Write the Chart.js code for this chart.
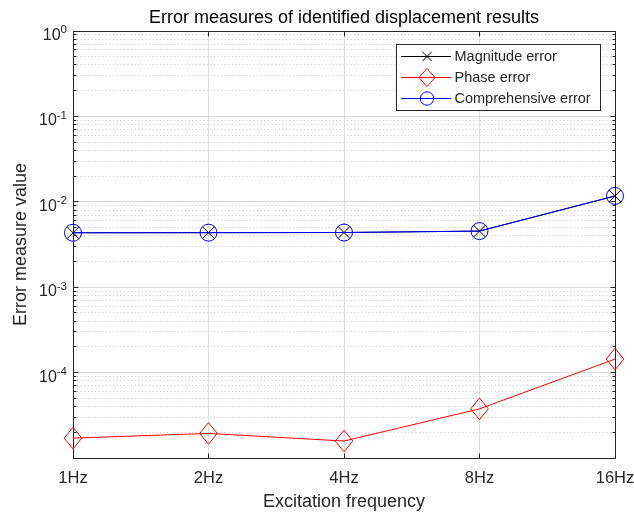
<!DOCTYPE html>
<html>
<head>
<meta charset="utf-8">
<script src="https://cdn.jsdelivr.net/npm/chart.js@4/dist/chart.umd.min.js"></script>
<style>
  html, body { margin: 0; padding: 0; background: #fff; overflow: hidden; }
  #wrap { width: 634px; height: 512px; position: relative; }
</style>
</head>
<body>
<div id="wrap"><canvas id="c" width="634" height="512"></canvas></div>
<script>
// ---- data ----
const frequencies = ['1Hz', '2Hz', '4Hz', '8Hz', '16Hz'];
const magnitudeError = [4.34e-3, 4.35e-3, 4.37e-3, 4.54e-3, 1.17e-2];
const phaseError = [1.71e-5, 1.94e-5, 1.58e-5, 3.76e-5, 1.44e-4];
const comprehensiveError = [4.34e-3, 4.35e-3, 4.37e-3, 4.54e-3, 1.17e-2];
const yDecadeExponents = [-4, -3, -2, -1, 0];   // labelled decades
const yRange = [1e-5, 1];

const titleText = 'Error measures of identified displacement results';
const xTitleText = 'Excitation frequency';
const yTitleText = 'Error measure value';

// ---- styling helpers ----
const FONT = '"Liberation Sans", Arial, Helvetica, sans-serif';
const AXIS_COLOR = '#262626';
const MAJOR_GRID = '#dedede';
const MINOR_GRID = '#c6c6c6';

const snap = v => Math.floor(v) + 0.5;

function diamondPath(ctx, x, y, hw, hh) {
  ctx.beginPath();
  ctx.moveTo(x, y - hh);
  ctx.lineTo(x + hw, y);
  ctx.lineTo(x, y + hh);
  ctx.lineTo(x - hw, y);
  ctx.closePath();
}

// tall diamond markers, placed at the point elements laid out by the chart
const diamondMarkers = {
  id: 'diamondMarkers',
  afterDatasetDraw(chart, args) {
    const ds = chart.data.datasets[args.index];
    if (ds.markerShape !== 'diamond') return;
    const ctx = chart.ctx;
    ctx.save();
    ctx.strokeStyle = ds.borderColor;
    ctx.lineWidth = 1;
    args.meta.data.forEach(pt => {
      diamondPath(ctx, pt.x, pt.y, 8.8, 10.8);
      ctx.stroke();
    });
    ctx.restore();
  }
};

// grid, box, ticks and text drawn around the plot area
const axesFrame = {
  id: 'axesFrame',
  beforeDatasetsDraw(chart) {
    const { ctx, chartArea: a, scales: { x, y } } = chart;
    const L = snap(a.left), R = snap(a.right), T = snap(a.top), B = snap(a.bottom);
    ctx.save();
    ctx.lineWidth = 1;

    // minor horizontal grid (dotted)
    ctx.strokeStyle = MINOR_GRID;
    ctx.setLineDash([1, 2.6]);
    const eMin = Math.round(Math.log10(yRange[0]));
    const eMax = Math.round(Math.log10(yRange[1]));
    for (let e = eMin; e < eMax; e++) {
      for (let m = 2; m <= 9; m++) {
        const py = snap(y.getPixelForValue(m * Math.pow(10, e)));
        ctx.beginPath(); ctx.moveTo(L, py); ctx.lineTo(R, py); ctx.stroke();
      }
    }
    ctx.setLineDash([]);

    // major grid
    ctx.strokeStyle = MAJOR_GRID;
    for (let e = eMin + 1; e < eMax; e++) {
      const py = snap(y.getPixelForValue(Math.pow(10, e)));
      ctx.beginPath(); ctx.moveTo(L, py); ctx.lineTo(R, py); ctx.stroke();
    }
    for (let i = 1; i < frequencies.length - 1; i++) {
      const px = snap(x.getPixelForValue(i));
      ctx.beginPath(); ctx.moveTo(px, T); ctx.lineTo(px, B); ctx.stroke();
    }

    // axes box
    ctx.strokeStyle = AXIS_COLOR;
    ctx.strokeRect(L, T, R - L, B - T);

    // inward ticks on all four sides
    ctx.beginPath();
    for (let e = eMin; e <= eMax; e++) {
      const py = snap(y.getPixelForValue(Math.pow(10, e)));
      ctx.moveTo(L, py); ctx.lineTo(L + 5, py);
      ctx.moveTo(R, py); ctx.lineTo(R - 5, py);
      if (e < eMax) {
        for (let m = 2; m <= 9; m++) {
          const pm = snap(y.getPixelForValue(m * Math.pow(10, e)));
          ctx.moveTo(L, pm); ctx.lineTo(L + 3, pm);
          ctx.moveTo(R, pm); ctx.lineTo(R - 3, pm);
        }
      }
    }
    for (let i = 0; i < frequencies.length; i++) {
      const px = snap(x.getPixelForValue(i));
      ctx.moveTo(px, B); ctx.lineTo(px, B - 5);
      ctx.moveTo(px, T); ctx.lineTo(px, T + 5);
    }
    ctx.stroke();
    ctx.restore();
  },
  afterDraw(chart) {
    const { ctx, chartArea: a, scales: { x, y } } = chart;
    const cx = (a.left + a.right) / 2;
    const cy = (a.top + a.bottom) / 2;
    ctx.save();

    // y tick labels: 10 with raised exponent
    ctx.fillStyle = AXIS_COLOR;
    ctx.textBaseline = 'alphabetic';
    ctx.textAlign = 'left';
    const baseFont = '16px ' + FONT, expFont = '11.5px ' + FONT;
    const labelRight = a.left - 6;
    yDecadeExponents.forEach(e => {
      const py = y.getPixelForValue(Math.pow(10, e));
      const expStr = String(e);
      ctx.font = baseFont;
      const wb = ctx.measureText('10').width;
      ctx.font = expFont;
      const we = ctx.measureText(expStr).width;
      const x0 = labelRight - wb - we;
      ctx.font = baseFont;
      ctx.fillText('10', x0, py + 9);
      ctx.font = expFont;
      ctx.fillText(expStr, x0 + wb, py + 2.3);
    });

    // x tick labels
    ctx.font = '16.5px ' + FONT;
    ctx.textAlign = 'center';
    frequencies.forEach((f, i) => {
      ctx.fillText(f, x.getPixelForValue(i), a.bottom + 25);
    });

    // axis titles
    ctx.font = '18px ' + FONT;
    ctx.fillText(xTitleText, cx, a.bottom + 49);
    ctx.save();
    ctx.translate(26, cy);
    ctx.rotate(-Math.PI / 2);
    ctx.fillText(yTitleText, 0, 0);
    ctx.restore();

    // chart title
    ctx.fillStyle = '#000';
    ctx.font = '18px ' + FONT;
    ctx.fillText(titleText, cx, 23.3);

    // legend box
    const bx = 396.5, by = 44.5, bw = 204, bh = 66;
    ctx.fillStyle = '#fff';
    ctx.fillRect(bx, by, bw, bh);
    ctx.strokeStyle = AXIS_COLOR;
    ctx.lineWidth = 1;
    ctx.strokeRect(bx, by, bw, bh);

    const rows = [56.5, 77.5, 98.5];
    const x1 = 401, x2 = 451, mx = 427;
    chart.data.datasets.forEach((ds, i) => {
      const ry = rows[i];
      ctx.strokeStyle = ds.borderColor;
      ctx.lineWidth = 1;
      ctx.beginPath(); ctx.moveTo(x1, ry); ctx.lineTo(x2, ry); ctx.stroke();
      if (ds.markerShape === 'x') {
        const r = 4.7;
        ctx.beginPath();
        ctx.moveTo(mx - r, ry - r); ctx.lineTo(mx + r, ry + r);
        ctx.moveTo(mx - r, ry + r); ctx.lineTo(mx + r, ry - r);
      } else if (ds.markerShape === 'diamond') {
        diamondPath(ctx, mx, ry, 8, 9);
      } else {
        ctx.beginPath();
        ctx.arc(mx, ry, 6.7, 0, Math.PI * 2);
      }
      ctx.stroke();
      ctx.fillStyle = AXIS_COLOR;
      ctx.font = '14.5px ' + FONT;
      ctx.textAlign = 'left';
      ctx.textBaseline = 'middle';
      ctx.fillText(ds.label, 454.5, ry + 0.5);
    });
    ctx.restore();
  }
};

new Chart(document.getElementById('c').getContext('2d'), {
  type: 'line',
  data: {
    labels: frequencies,
    datasets: [
      {
        label: 'Magnitude error',
        data: magnitudeError,
        markerShape: 'x',
        borderColor: '#000000',
        borderWidth: 1,
        pointStyle: 'crossRot',
        pointRadius: 8.5,
        pointBorderColor: '#000000',
        pointBorderWidth: 1,
        pointBackgroundColor: 'rgba(0,0,0,0)',
        order: 3,
        clip: false,
        tension: 0,
        fill: false
      },
      {
        label: 'Phase error',
        data: phaseError,
        markerShape: 'diamond',
        borderColor: '#ff0000',
        borderWidth: 1,
        pointRadius: 0,
        order: 2,
        clip: false,
        tension: 0,
        fill: false
      },
      {
        label: 'Comprehensive error',
        data: comprehensiveError,
        markerShape: 'o',
        borderColor: '#0000ff',
        borderWidth: 1,
        pointStyle: 'circle',
        pointRadius: 8.5,
        pointBorderColor: '#0000ff',
        pointBorderWidth: 1,
        pointBackgroundColor: 'rgba(0,0,0,0)',
        order: 1,
        clip: false,
        tension: 0,
        fill: false
      }
    ]
  },
  options: {
    responsive: false,
    animation: false,
    devicePixelRatio: 1,
    events: [],
    layout: { padding: { left: 73, right: 19, top: 31, bottom: 54 } },
    plugins: {
      legend: { display: false },
      title: { display: false },
      tooltip: { enabled: false }
    },
    scales: {
      x: { type: 'category', offset: false, display: false },
      y: { type: 'logarithmic', min: yRange[0], max: yRange[1], display: false }
    }
  },
  plugins: [axesFrame, diamondMarkers]
});
</script>
</body>
</html>
